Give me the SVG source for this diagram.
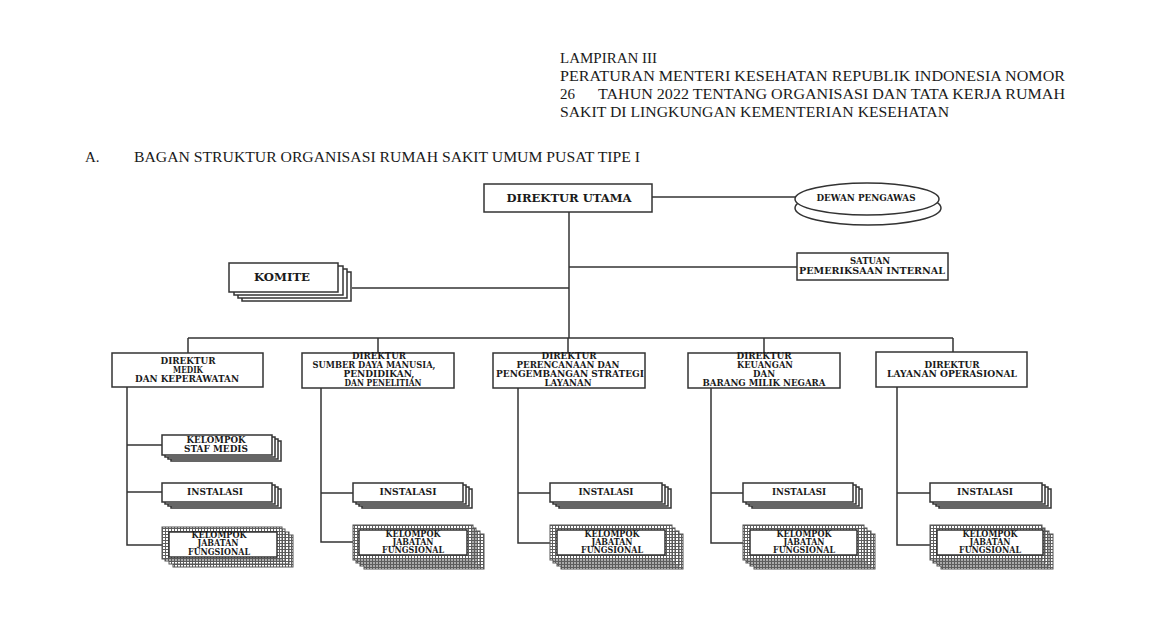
<svg xmlns="http://www.w3.org/2000/svg" width="1160" height="626" viewBox="0 0 1160 626">
<defs>
<pattern id="hatch" width="3" height="3" patternUnits="userSpaceOnUse">
<rect width="3" height="3" fill="#ffffff"/>
<rect width="3" height="1" fill="#5e5e5e"/>
<rect width="1" height="3" fill="#5e5e5e"/>
</pattern>
</defs>
<style>
.hd{font-family:"Liberation Serif","DejaVu Serif",serif;font-size:15px;fill:#1a1a1a}
.bx{fill:#fff;stroke:#333;stroke-width:1.5}
.hb{fill:url(#hatch);stroke:#555;stroke-width:1}
.t{font-family:"DejaVu Serif","Liberation Serif",serif;font-weight:bold;font-size:8.5px;fill:#1a1a1a;text-anchor:middle}
.tl{font-family:"DejaVu Serif","Liberation Serif",serif;font-weight:bold;font-size:11px;fill:#1a1a1a;text-anchor:middle}
.ln{fill:none;stroke:#333;stroke-width:1.5}
</style>
<rect width="1160" height="626" fill="#fff"/>

<g id="header">
<text class="hd" x="560" y="63" textLength="97" lengthAdjust="spacingAndGlyphs">LAMPIRAN III</text>
<text class="hd" x="560" y="81" textLength="505" lengthAdjust="spacingAndGlyphs">PERATURAN MENTERI KESEHATAN REPUBLIK INDONESIA NOMOR</text>
<text class="hd" x="560" y="99">26</text>
<text class="hd" x="598" y="99" textLength="467" lengthAdjust="spacingAndGlyphs">TAHUN 2022 TENTANG ORGANISASI DAN TATA KERJA RUMAH</text>
<text class="hd" x="560" y="117" textLength="389" lengthAdjust="spacingAndGlyphs">SAKIT DI LINGKUNGAN KEMENTERIAN KESEHATAN</text>
<text class="hd" x="85" y="162">A.</text>
<text class="hd" x="134" y="162" textLength="506" lengthAdjust="spacingAndGlyphs">BAGAN STRUKTUR ORGANISASI RUMAH SAKIT UMUM PUSAT TIPE I</text>
</g>

<g id="connectors">
<path class="ln" d="M652 197 H796"/>
<path class="ln" d="M569 212 V338"/>
<path class="ln" d="M569 267 H797"/>
<path class="ln" d="M352 288 H569"/>
<path class="ln" d="M188 338 H953"/>
<path class="ln" d="M188 338 V353 M378 338 V353 M568 338 V353 M764 338 V353 M953 338 V352"/>
<path class="ln" d="M127 387 V545 H162 M127 445 H162 M127 492 H162"/>
<path class="ln" d="M321 388 V542 H353 M321 493 H353"/>
<path class="ln" d="M518 388 V543 H550 M518 493 H550"/>
<path class="ln" d="M711 388 V543 H743 M711 493 H743"/>
<path class="ln" d="M897 387 V545 H930 M897 493 H930"/>
</g>

<g id="direktur-utama">
<rect class="bx" x="484" y="184" width="168" height="28"/>
<text class="tl" x="569" y="202" textLength="125" lengthAdjust="spacingAndGlyphs">DIREKTUR UTAMA</text>
</g>

<g id="dewan-pengawas">
<ellipse class="bx" cx="868" cy="208" rx="73" ry="17"/>
<ellipse class="bx" cx="867" cy="199" rx="72" ry="16"/>
<text class="t" x="866" y="201" font-size="7.5" textLength="99" lengthAdjust="spacingAndGlyphs">DEWAN PENGAWAS</text>
</g>

<g id="spi">
<rect class="bx" x="797" y="253" width="151" height="27"/>
<text class="t" x="870" y="264" font-size="7.5">SATUAN</text>
<text class="t" x="872" y="274" font-size="7.5" textLength="146" lengthAdjust="spacingAndGlyphs">PEMERIKSAAN INTERNAL</text>
</g>

<g id="komite">
<rect class="bx" x="242" y="272" width="109" height="29"/>
<rect class="bx" x="238" y="269" width="109" height="29"/>
<rect class="bx" x="234" y="266" width="109" height="29"/>
<rect class="bx" x="229" y="263" width="109" height="29"/>
<text class="tl" x="282" y="281" font-size="10" textLength="56" lengthAdjust="spacingAndGlyphs">KOMITE</text>
</g>

<g id="dir-medik">
<rect class="bx" x="112" y="353" width="151" height="34"/>
<text class="t" x="188" y="364" textLength="55" lengthAdjust="spacingAndGlyphs">DIREKTUR</text>
<text class="t" x="188" y="373" textLength="30" lengthAdjust="spacingAndGlyphs">MEDIK</text>
<text class="t" x="187" y="382" textLength="104" lengthAdjust="spacingAndGlyphs">DAN KEPERAWATAN</text>
</g>

<g id="dir-sdm">
<rect class="bx" x="302" y="353" width="152" height="35"/>
<text class="t" x="379" y="359" textLength="54" lengthAdjust="spacingAndGlyphs">DIREKTUR</text>
<text class="t" x="374" y="368" textLength="123" lengthAdjust="spacingAndGlyphs">SUMBER DAYA MANUSIA,</text>
<text class="t" x="379" y="377" textLength="71" lengthAdjust="spacingAndGlyphs">PENDIDIKAN,</text>
<text class="t" x="383" y="386" textLength="77" lengthAdjust="spacingAndGlyphs">DAN PENELITIAN</text>
</g>

<g id="dir-perencanaan">
<rect class="bx" x="493" y="353" width="152" height="35"/>
<text class="t" x="569" y="359" textLength="55" lengthAdjust="spacingAndGlyphs">DIREKTUR</text>
<text class="t" x="568" y="368" textLength="103" lengthAdjust="spacingAndGlyphs">PERENCANAAN DAN</text>
<text class="t" x="570" y="377" textLength="148" lengthAdjust="spacingAndGlyphs">PENGEMBANGAN STRATEGI</text>
<text class="t" x="568" y="386" textLength="47" lengthAdjust="spacingAndGlyphs">LAYANAN</text>
</g>

<g id="dir-keuangan">
<rect class="bx" x="688" y="353" width="152" height="35"/>
<text class="t" x="764" y="359" textLength="55" lengthAdjust="spacingAndGlyphs">DIREKTUR</text>
<text class="t" x="765" y="368" textLength="56" lengthAdjust="spacingAndGlyphs">KEUANGAN</text>
<text class="t" x="764" y="377" textLength="22" lengthAdjust="spacingAndGlyphs">DAN</text>
<text class="t" x="764" y="386" textLength="123" lengthAdjust="spacingAndGlyphs">BARANG MILIK NEGARA</text>
</g>

<g id="dir-layanan-operasional">
<rect class="bx" x="876" y="352" width="151" height="35"/>
<text class="t" x="952" y="368" textLength="55" lengthAdjust="spacingAndGlyphs">DIREKTUR</text>
<text class="t" x="952" y="377" textLength="130" lengthAdjust="spacingAndGlyphs">LAYANAN OPERASIONAL</text>
</g>

<g id="ksm-medik">
<rect class="bx" x="171" y="441" width="110" height="20"/>
<rect class="bx" x="168" y="439" width="110" height="20"/>
<rect class="bx" x="165" y="437" width="110" height="20"/>
<rect class="bx" x="162" y="435" width="110" height="20"/>
<text class="t" x="216" y="443" textLength="59" lengthAdjust="spacingAndGlyphs">KELOMPOK</text>
<text class="t" x="216" y="452" textLength="64" lengthAdjust="spacingAndGlyphs">STAF MEDIS</text>
</g>

<g id="instalasi-medik">
<rect class="bx" x="171" y="489" width="110" height="19"/>
<rect class="bx" x="168" y="487" width="110" height="19"/>
<rect class="bx" x="165" y="485" width="110" height="19"/>
<rect class="bx" x="162" y="483" width="110" height="19"/>
<text class="t" x="215" y="495" textLength="56" lengthAdjust="spacingAndGlyphs">INSTALASI</text>
</g>

<g id="jf-medik">
<rect class="hb" x="173" y="535" width="120" height="32"/>
<rect class="hb" x="169" y="532" width="120" height="32"/>
<rect class="hb" x="165" y="529" width="120" height="32"/>
<rect class="hb" x="162" y="527" width="120" height="32"/>
<rect class="bx" x="169" y="532" width="108" height="25"/>
<text class="t" x="219" y="538" textLength="55" lengthAdjust="spacingAndGlyphs">KELOMPOK</text>
<text class="t" x="218" y="546" textLength="41" lengthAdjust="spacingAndGlyphs">JABATAN</text>
<text class="t" x="219" y="555" textLength="62" lengthAdjust="spacingAndGlyphs">FUNGSIONAL</text>
</g>

<g id="instalasi-sdm">
<rect class="bx" x="362" y="489" width="110" height="19"/>
<rect class="bx" x="359" y="487" width="110" height="19"/>
<rect class="bx" x="356" y="485" width="110" height="19"/>
<rect class="bx" x="353" y="483" width="110" height="19"/>
<text class="t" x="408" y="495" textLength="57" lengthAdjust="spacingAndGlyphs">INSTALASI</text>
</g>

<g id="jf-sdm">
<rect class="hb" x="364" y="534" width="120" height="35"/>
<rect class="hb" x="360" y="531" width="120" height="35"/>
<rect class="hb" x="356" y="528" width="120" height="35"/>
<rect class="hb" x="353" y="525" width="120" height="35"/>
<rect class="bx" x="359" y="530" width="108" height="25"/>
<text class="t" x="413" y="537" textLength="55" lengthAdjust="spacingAndGlyphs">KELOMPOK</text>
<text class="t" x="413" y="545" textLength="41" lengthAdjust="spacingAndGlyphs">JABATAN</text>
<text class="t" x="413" y="553" textLength="62" lengthAdjust="spacingAndGlyphs">FUNGSIONAL</text>
</g>

<g id="instalasi-perencanaan">
<rect class="bx" x="559" y="489" width="112" height="19"/>
<rect class="bx" x="556" y="487" width="112" height="19"/>
<rect class="bx" x="553" y="485" width="112" height="19"/>
<rect class="bx" x="550" y="483" width="112" height="19"/>
<text class="t" x="606" y="495" textLength="55" lengthAdjust="spacingAndGlyphs">INSTALASI</text>
</g>

<g id="jf-perencanaan">
<rect class="hb" x="561" y="534" width="122" height="35"/>
<rect class="hb" x="557" y="531" width="122" height="35"/>
<rect class="hb" x="553" y="528" width="122" height="35"/>
<rect class="hb" x="550" y="525" width="122" height="35"/>
<rect class="bx" x="557" y="530" width="108" height="25"/>
<text class="t" x="612" y="537" textLength="55" lengthAdjust="spacingAndGlyphs">KELOMPOK</text>
<text class="t" x="612" y="545" textLength="41" lengthAdjust="spacingAndGlyphs">JABATAN</text>
<text class="t" x="612" y="553" textLength="62" lengthAdjust="spacingAndGlyphs">FUNGSIONAL</text>
</g>

<g id="instalasi-keuangan">
<rect class="bx" x="752" y="489" width="110" height="19"/>
<rect class="bx" x="749" y="487" width="110" height="19"/>
<rect class="bx" x="746" y="485" width="110" height="19"/>
<rect class="bx" x="743" y="483" width="110" height="19"/>
<text class="t" x="799" y="495" textLength="54" lengthAdjust="spacingAndGlyphs">INSTALASI</text>
</g>

<g id="jf-keuangan">
<rect class="hb" x="754" y="534" width="121" height="35"/>
<rect class="hb" x="750" y="531" width="121" height="35"/>
<rect class="hb" x="746" y="528" width="121" height="35"/>
<rect class="hb" x="743" y="525" width="121" height="35"/>
<rect class="bx" x="750" y="530" width="107" height="25"/>
<text class="t" x="804" y="537" textLength="55" lengthAdjust="spacingAndGlyphs">KELOMPOK</text>
<text class="t" x="804" y="545" textLength="41" lengthAdjust="spacingAndGlyphs">JABATAN</text>
<text class="t" x="804" y="553" textLength="62" lengthAdjust="spacingAndGlyphs">FUNGSIONAL</text>
</g>

<g id="instalasi-operasional">
<rect class="bx" x="939" y="489" width="112" height="19"/>
<rect class="bx" x="936" y="487" width="112" height="19"/>
<rect class="bx" x="933" y="485" width="112" height="19"/>
<rect class="bx" x="930" y="483" width="112" height="19"/>
<text class="t" x="985" y="495" textLength="56" lengthAdjust="spacingAndGlyphs">INSTALASI</text>
</g>

<g id="jf-operasional">
<rect class="hb" x="941" y="534" width="112" height="35"/>
<rect class="hb" x="937" y="531" width="112" height="35"/>
<rect class="hb" x="933" y="528" width="112" height="35"/>
<rect class="hb" x="930" y="525" width="112" height="35"/>
<rect class="bx" x="937" y="530" width="106" height="25"/>
<text class="t" x="990" y="537" textLength="55" lengthAdjust="spacingAndGlyphs">KELOMPOK</text>
<text class="t" x="990" y="545" textLength="41" lengthAdjust="spacingAndGlyphs">JABATAN</text>
<text class="t" x="990" y="553" textLength="62" lengthAdjust="spacingAndGlyphs">FUNGSIONAL</text>
</g>
</svg>
